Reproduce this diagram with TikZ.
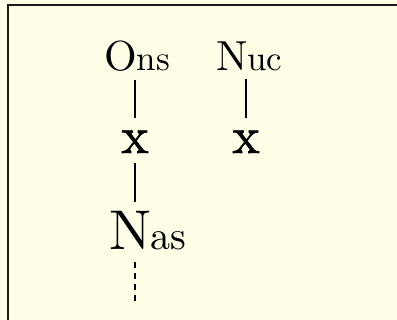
\documentclass[tikz,border=0pt]{standalone}
\usepackage{fontspec}
\setmainfont{lmroman10-regular.otf}
\newfontfamily\slotfont{lmroman10-regular.otf}[FakeBold=1.2]
\definecolor{bgyellow}{RGB}{255,255,232}
\begin{document}
\begin{tikzpicture}[x=1pt,y=-1pt,
  lbl/.style={inner sep=0pt,outer sep=0pt,anchor=base west},
  slot/.style={inner sep=0pt,outer sep=0pt,anchor=base,font=\slotfont\fontsize{52}{58}\selectfont},
  link/.style={line width=1.1pt,black}]
\fill[bgyellow] (0,0) rectangle (397,320);
\useasboundingbox (0,0) rectangle (397,320);
\draw[line width=2pt,black!90] (8,5) rectangle (430,360);
\node[lbl] (ons) at (104,71) {\fontsize{42}{48}\selectfont O\fontsize{35}{40}\selectfont ns};
\node[lbl] (nuc) at (216,71) {\fontsize{42}{48}\selectfont N\fontsize{35}{40}\selectfont uc};
\node[slot] (x1) at (135,153) {x};
\node[slot] (x2) at (246,153) {x};
\node[lbl] (nas) at (109,250) {\fontsize{56}{62}\selectfont N\fontsize{40}{46}\selectfont as};
\coordinate (tail) at (135,305);
\draw[link,shorten <=8pt,shorten >=13pt] (x1 |- ons.south) -- (x1.north);
\draw[link,shorten <=8pt,shorten >=13pt] (x2 |- nuc.south) -- (x2.north);
\draw[link,shorten <=10pt,shorten >=10pt] (x1.south) -- (x1 |- nas.north);
\draw[link,dash pattern=on 6pt off 5pt,shorten <=12pt] (x1 |- nas.south) -- (tail);
\end{tikzpicture}
\end{document}
